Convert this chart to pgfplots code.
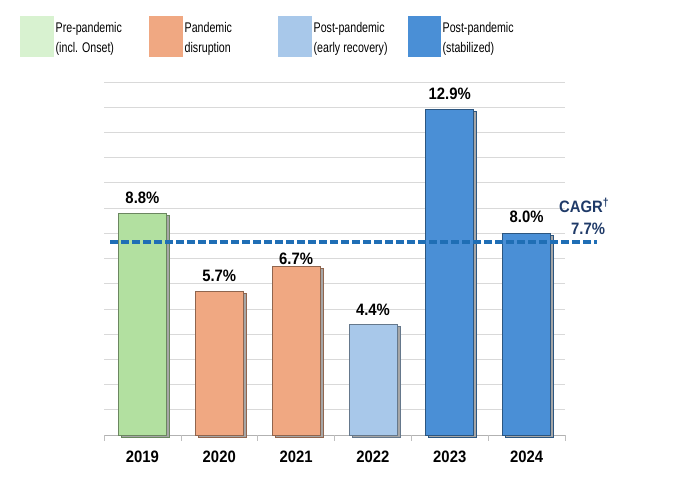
\documentclass[border=0pt]{standalone}
\usepackage{pgfplots}
\pgfplotsset{compat=1.18}
\usepackage{fontspec}
\setmainfont{Liberation Sans}
\newfontfamily\narrow[FakeStretch=0.76]{Liberation Sans}
\newfontfamily\narrowb[FakeStretch=0.9]{Liberation Sans Bold}
\definecolor{cgreen}{HTML}{B2E0A0}
\definecolor{cgreenL}{HTML}{D8F2D0}
\definecolor{corange}{HTML}{F0A882}
\definecolor{clblue}{HTML}{A8C8EA}
\definecolor{cblue}{HTML}{4A8FD6}
\definecolor{cline}{HTML}{1F6EB5}
\definecolor{cnavy}{HTML}{1F3A68}
\definecolor{cgrid}{HTML}{D9D9D9}
\begin{document}
\begin{tikzpicture}[x=1bp,y=1bp]
\path[use as bounding box] (0,0) rectangle (699,478);
% legend
\newcommand{\legitem}[5]{%
  \fill[#1] (#2,421) rectangle (#3,462);
  \node[anchor=base west, inner sep=0, font=\narrow\fontsize{14bp}{18bp}\selectfont] at (#3+1.5,445) {#4};
  \node[anchor=base west, inner sep=0, font=\narrow\fontsize{14bp}{18bp}\selectfont] at (#3+1.5,425) {#5};
}
\legitem{cgreenL}{20}{54}{Pre-pandemic}{(incl. Onset)}
\legitem{corange}{149}{183}{Pandemic}{disruption}
\legitem{clblue}{278}{312}{Post-pandemic}{(early recovery)}
\legitem{cblue}{408}{441}{Post-pandemic}{(stabilized)}
\begin{axis}[
  at={(104bp,43bp)}, anchor=south west,
  scale only axis, width=461bp, height=353bp,
  xmin=-0.5, xmax=5.5, ymin=0, ymax=14,
  clip=false,
  axis x line*=bottom, axis y line*=left,
  x axis line style={draw=gray!60, line width=0.8bp, -},
  y axis line style={draw=none},
  xtick={0,1,2,3,4,5},
  xticklabels={2019,2020,2021,2022,2023,2024},
  xticklabel style={font=\narrowb\fontsize{16.5bp}{18bp}\selectfont, yshift=-12bp},
  xtick style={draw=none},
  extra x ticks={-0.5,0.5,1.5,2.5,3.5,4.5,5.5},
  extra x tick labels={},
  extra x tick style={xtick style={draw=gray!50, line width=0.6bp}, major tick length=6bp, tick align=outside, grid=none},
  ytick={1,...,14}, yticklabels={},
  ytick style={draw=none},
  ymajorgrids, grid style={cgrid, line width=0.8bp},
  every node near coord/.append style={font=\narrowb\fontsize{16.5bp}{18bp}\selectfont, anchor=base, text=black},
]
\pgfplotsset{mybar/.style={ybar, bar width=48bp, bar shift=0pt, fill=#1, draw=#1!60!black, line width=0.8bp,
   preaction={fill=black!35, transform canvas={shift={(3bp,-2bp)}}}}}
\addplot[mybar=cgreen, nodes near coords={8.8\%}, every node near coord/.append style={yshift=10bp}] coordinates {(0,8.8)};
\addplot[mybar=corange, nodes near coords={5.7\%}, every node near coord/.append style={yshift=10bp}] coordinates {(1,5.7)};
\addplot[mybar=corange, nodes near coords={6.7\%}, every node near coord/.append style={yshift=2bp}] coordinates {(2,6.7)};
\addplot[mybar=clblue, nodes near coords={4.4\%}, every node near coord/.append style={yshift=9bp}] coordinates {(3,4.4)};
\addplot[mybar=cblue, nodes near coords={12.9\%}, every node near coord/.append style={yshift=10bp}] coordinates {(4,12.9)};
\addplot[mybar=cblue, nodes near coords={8.0\%}, every node near coord/.append style={yshift=10.5bp}] coordinates {(5,8.0)};
\addplot[cline, line width=4bp, dash pattern=on 8bp off 3bp, no markers] coordinates {(-0.42,7.65) (5.92,7.65)};
\node[text=cnavy, font=\narrowb\fontsize{16.5bp}{18bp}\selectfont] at (axis cs:5.75,9.12) {CAGR\textsuperscript{†}};
\node[text=cnavy, font=\narrowb\fontsize{16.5bp}{18bp}\selectfont] at (axis cs:5.8,8.17) {7.7\%};
\end{axis}
\end{tikzpicture}
\end{document}
